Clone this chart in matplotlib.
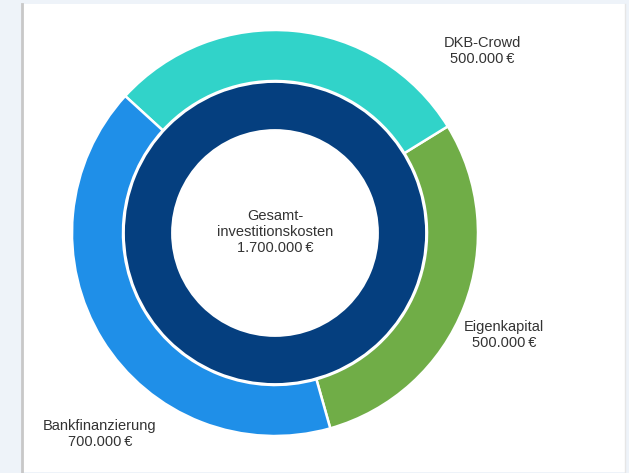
import matplotlib.pyplot as plt
from matplotlib.patches import Rectangle

# data
labels = ['Eigenkapital', 'DKB-Crowd', 'Bankfinanzierung']
values = [500000, 500000, 700000]
colors = ['#70ad47', '#31d3c9', '#1f8fe8']
center_title = 'Gesamt-\ninvestitionskosten'
inner_color = '#053f7f'

W, H = 629, 473


def eur(v):
    return f'{v:,.0f}'.replace(',', '.') + '\u2009€'


plt.rcParams['font.family'] = ['Liberation Sans', 'DejaVu Sans']

fig = plt.figure(figsize=(W / 100, H / 100), dpi=100, facecolor='#eef3f9')
ax = fig.add_axes([0, 0, 1, 1])

# white card with a grey left edge
ax.add_patch(Rectangle((22, 1), 603, H - 5, facecolor='white', edgecolor='none', zorder=0))
ax.plot([22, 22], [1, H - 4], color='#c8c8c8', lw=2, zorder=1)
ax.plot([625, 625], [1, H - 4], color='#e6e6e6', lw=1, zorder=1)

cx, cy = 275, H - 233
R = 203
start = -74.2

# outer ring
ax.pie(values, colors=colors, radius=R, center=(cx, cy), startangle=start,
       counterclock=True, frame=True,
       wedgeprops=dict(width=R - 152, edgecolor='white', linewidth=1.8))

# inner ring (total)
total = sum(values)
ax.pie([total], colors=[inner_color], radius=151, center=(cx, cy), startangle=start,
       counterclock=True, frame=True,
       wedgeprops=dict(width=151 - 103, edgecolor='white', linewidth=1.3))

ax.set_xlim(0, W)
ax.set_ylim(0, H)
ax.set_aspect('equal')
ax.axis('off')

txt = dict(ha='center', va='center', fontsize=10.5, color='#333333', linespacing=1.15)
label_pos = {'Eigenkapital': (504, 335), 'DKB-Crowd': (482, 51), 'Bankfinanzierung': (100, 434)}
for name, v in zip(labels, values):
    x, y = label_pos[name]
    ax.text(x, H - y, f'{name}\n{eur(v)}', **txt)

ax.text(cx, H - 232, f'{center_title}\n{eur(total)}', **txt)

fig.savefig('out.png', dpi=100, facecolor=fig.get_facecolor())
